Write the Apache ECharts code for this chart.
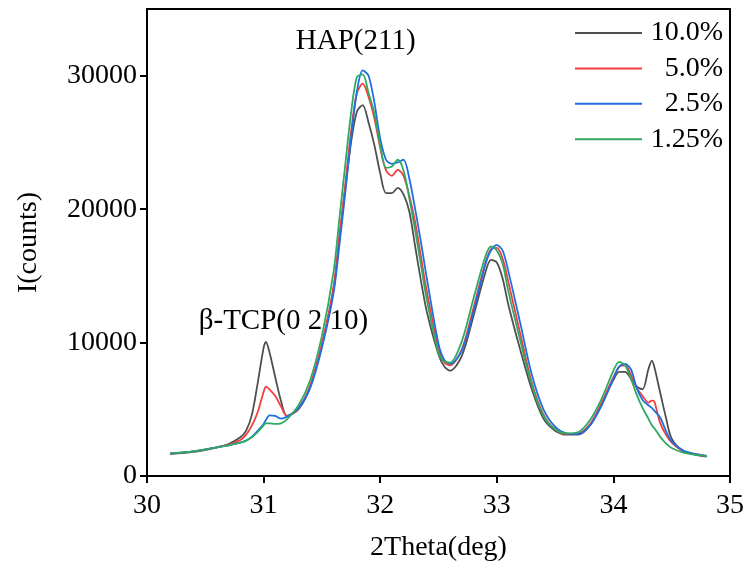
<!DOCTYPE html>
<html>
<head>
<meta charset="utf-8">
<script src="https://cdn.jsdelivr.net/npm/echarts@6/dist/echarts.min.js"></script>
<style>html,body{margin:0;padding:0;background:#fff;}#c{width:747px;height:567px;}</style>
</head>
<body>
<div id="c"></div>
<script>
const twoTheta = [30.2, 30.4, 30.6, 30.7, 30.8, 30.85, 30.9, 30.95, 31.0, 31.02, 31.05, 31.1, 31.15, 31.2, 31.3, 31.4, 31.5, 31.6, 31.65, 31.7, 31.75, 31.8, 31.85, 31.9, 31.95, 32.0, 32.05, 32.1, 32.15, 32.2, 32.25, 32.3, 32.35, 32.4, 32.5, 32.55, 32.6, 32.7, 32.8, 32.9, 32.95, 33.0, 33.05, 33.1, 33.2, 33.3, 33.4, 33.5, 33.6, 33.7, 33.8, 33.9, 34.0, 34.05, 34.1, 34.15, 34.2, 34.25, 34.3, 34.33, 34.35, 34.4, 34.45, 34.5, 34.6, 34.7, 34.8];

const s10 = [1650, 1800, 2150, 2400, 2900, 3400, 4600, 7000, 9600, 10050, 9300, 7400, 5600, 4500, 5000, 6700, 9800, 14000, 17800, 21500, 25000, 27300, 27800, 26500, 24800, 22700, 21200, 21200, 21600, 21100, 19800, 17200, 14600, 12300, 9100, 8200, 7900, 9000, 12000, 15200, 16200, 16000, 14800, 12800, 9500, 6500, 4300, 3400, 3100, 3100, 3800, 5400, 7200, 7800, 7800, 7300, 6700, 6500, 8000, 8650, 8200, 6300, 4400, 2800, 1850, 1600, 1450];

const s5 = [1700, 1850, 2150, 2350, 2700, 3100, 3800, 4800, 6300, 6700, 6500, 6000, 5200, 4500, 5100, 6800, 9900, 14200, 18000, 21800, 25800, 28700, 29400, 28400, 26800, 24600, 22900, 22500, 22950, 22500, 21000, 19000, 16400, 13800, 9600, 8500, 8300, 9500, 12600, 15900, 17000, 17100, 16300, 14500, 10700, 7000, 4600, 3500, 3150, 3200, 3900, 5500, 7400, 8200, 8300, 7600, 6600, 6000, 5500, 5650, 5600, 4000, 3100, 2500, 1850, 1650, 1500];

const s25 = [1700, 1850, 2150, 2300, 2500, 2650, 2950, 3400, 3900, 4200, 4550, 4500, 4300, 4450, 5100, 6600, 9600, 13700, 17300, 21200, 25300, 28800, 30400, 30000, 28000, 25300, 23700, 23400, 23500, 23700, 22300, 20000, 17500, 14800, 9900, 8700, 8400, 9400, 12300, 15800, 16900, 17300, 16900, 15300, 11500, 7600, 5000, 3700, 3200, 3150, 3800, 5300, 7300, 8200, 8400, 8000, 6600, 5700, 5300, 5100, 4900, 4400, 3400, 2600, 1900, 1650, 1500];

const s125 = [1700, 1850, 2150, 2300, 2500, 2650, 2900, 3300, 3800, 3950, 3950, 3900, 3950, 4250, 5300, 7200, 10500, 15300, 19300, 23300, 27200, 29900, 30100, 28700, 27200, 24800, 23100, 23200, 23700, 22900, 20800, 18400, 15800, 13200, 9200, 8600, 8500, 10100, 13300, 16400, 17200, 16900, 15900, 13800, 10200, 6800, 4500, 3500, 3200, 3300, 4200, 5800, 7900, 8550, 8300, 7300, 6100, 5100, 4300, 3800, 3600, 2950, 2450, 2100, 1750, 1600, 1500];

const seriesNames = ['10.0%', '5.0%', '2.5%', '1.25%'];
const seriesColors = ['#4f4f4f', '#f23d3d', '#1f6fe0', '#2eaa62'];
const xTicks = [30, 35, 1];
const yTicks = [0, 35000, 10000];
const annotations = [
  { text: 'HAP(211)', x: 31.79, y: 32600 },
  { text: 'β-TCP(0 2 10)', x: 31.17, y: 11600 }
];

const FONT = '"Liberation Serif", "Times New Roman", serif';
const all = [s10, s5, s25, s125];

const chart = echarts.init(document.getElementById('c'), null, { renderer: 'canvas' });
const series = all.map((vals, i) => ({
  name: seriesNames[i],
  type: 'line',
  smooth: 0.3,
  showSymbol: false,
  symbol: 'none',
  animation: false,
  lineStyle: { width: 1.8, color: seriesColors[i] },
  itemStyle: { color: seriesColors[i] },
  data: twoTheta.map((x, k) => [x, vals[k]])
}));

chart.setOption({
  animation: false,
  backgroundColor: '#fff',
  grid: { left: 147, right: 16, top: 9, bottom: 89, show: true, borderColor: '#000', borderWidth: 2, containLabel: false },
  legend: {
    data: seriesNames,
    orient: 'vertical',
    left: 575, top: 19,
    padding: 0,
    icon: 'rect',
    itemWidth: 67, itemHeight: 2,
    itemGap: 7.4,
    itemTextGap: 2,
    formatter: n => '{r|' + n + '}',
    textStyle: {
      fontFamily: FONT, fontSize: 28, color: '#000',
      rich: { r: { width: 76, align: 'right', fontFamily: FONT, fontSize: 28, color: '#000', lineHeight: 28 } }
    }
  },
  xAxis: {
    type: 'value', min: xTicks[0], max: xTicks[1], interval: xTicks[2],
    name: '2Theta(deg)', nameLocation: 'middle', nameGap: 58,
    nameTextStyle: { fontFamily: FONT, fontSize: 28, color: '#000' },
    axisLine: { show: true, lineStyle: { color: '#000', width: 2 } },
    axisTick: { show: true, inside: false, length: 7, lineStyle: { color: '#000', width: 2 } },
    axisLabel: { fontFamily: FONT, fontSize: 28, color: '#000', margin: 16 },
    splitLine: { show: false }
  },
  yAxis: {
    type: 'value', min: yTicks[0], max: yTicks[1], interval: yTicks[2],
    name: 'I(counts)', nameLocation: 'middle', nameGap: 104,
    nameTextStyle: { fontFamily: FONT, fontSize: 28, color: '#000' },
    axisLine: { show: true, lineStyle: { color: '#000', width: 2 } },
    axisTick: { show: true, inside: false, length: 7, lineStyle: { color: '#000', width: 2 } },
    axisLabel: { fontFamily: FONT, fontSize: 28, color: '#000', margin: 10, showMaxLabel: false, formatter: v => String(v) },
    splitLine: { show: false }
  },
  series: series
});

chart.setOption({
  graphic: annotations.map(a => {
    const p = chart.convertToPixel({ gridIndex: 0 }, [a.x, a.y]);
    return {
      type: 'text', x: p[0], y: p[1], silent: true,
      style: { text: a.text, fontFamily: FONT, fontSize: 29, fill: '#000', align: 'center', verticalAlign: 'middle' }
    };
  })
});
</script>
</body>
</html>
